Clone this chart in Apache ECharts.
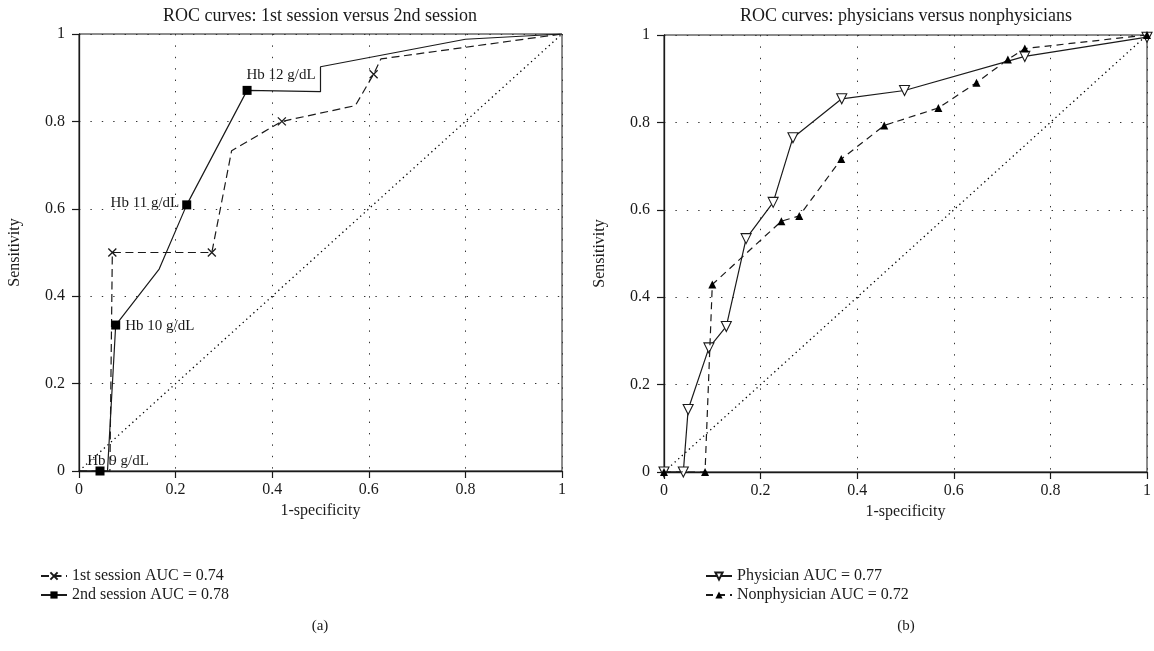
<!DOCTYPE html>
<html>
<head>
<meta charset="utf-8">
<script src="https://cdn.jsdelivr.net/npm/echarts@6/dist/echarts.min.js"></script>
<style>
  html, body { margin: 0; padding: 0; background: #fff; }
  #main { width: 1154px; height: 651px; }
</style>
</head>
<body>
<div id="main"></div>
<script>
// panel (a): 1st vs 2nd session
var session1X = [0, 0.064, 0.069, 0.275, 0.316, 0.42, 0.572, 0.61, 0.625, 1];
var session1Y = [0, 0, 0.5, 0.5, 0.733, 0.8, 0.836, 0.908, 0.943, 1];
var session1Marked = [false, false, true, true, false, true, false, true, false, false];

var session2X = [0, 0.0435, 0.059, 0.076, 0.166, 0.223, 0.348, 0.5, 0.5, 0.8, 1];
var session2Y = [0, 0, 0, 0.334, 0.462, 0.609, 0.871, 0.868, 0.925, 0.988, 1];
var session2Labels = ['', 'Hb 9 g/dL', '', 'Hb 10 g/dL', '', 'Hb 11 g/dL', 'Hb 12 g/dL', '', '', '', ''];

// panel (b): physicians vs nonphysicians
var physX = [0, 0.04, 0.05, 0.093, 0.129, 0.17, 0.226, 0.267, 0.368, 0.498, 0.747, 1];
var physY = [0, 0, 0.143, 0.284, 0.333, 0.534, 0.617, 0.765, 0.854, 0.873, 0.951, 0.995];

var nonX = [0, 0.085, 0.1, 0.243, 0.28, 0.367, 0.456, 0.568, 0.647, 0.712, 0.747, 1];
var nonY = [0, 0, 0.429, 0.574, 0.586, 0.716, 0.793, 0.833, 0.891, 0.944, 0.969, 1];

var legendA = ['1st session AUC = 0.74', '2nd session AUC = 0.78'];
var legendB = ['Physician AUC = 0.77', 'Nonphysician AUC = 0.72'];

var FONT = '"Liberation Serif", "DejaVu Serif", serif';
var INK = '#1a1a1a';

var crossPath = 'path://M0,0L10,10M10,0L0,10';

// label placement per annotated point
var labelPos = {
  'Hb 9 g/dL': { position: 'top', distance: 1, offset: [18, 3] },
  'Hb 10 g/dL': { position: 'right', distance: 5, offset: [0, 1] },
  'Hb 11 g/dL': { position: 'left', distance: 3, offset: [0, -2] },
  'Hb 12 g/dL': { position: 'top', distance: 3, offset: [34, 0] }
};

function pairs(xs, ys) {
  return xs.map(function (x, i) { return [x, ys[i]]; });
}

var s1Data = session1X.map(function (x, i) {
  var item = { value: [x, session1Y[i]] };
  if (!session1Marked[i]) item.symbol = 'none';
  return item;
});

var s2Data = session2X.map(function (x, i) {
  var item = { value: [x, session2Y[i]] };
  var lab = session2Labels[i];
  if (!lab) {
    item.symbol = 'none';
  } else {
    var p = labelPos[lab];
    item.label = {
      show: true, formatter: lab, position: p.position, distance: p.distance,
      offset: p.offset, color: INK, fontFamily: FONT, fontSize: 15
    };
  }
  return item;
});

function makeXAxis(idx) {
  return {
    gridIndex: idx, type: 'value', min: 0, max: 1, interval: 0.2,
    name: '1-specificity', nameLocation: 'middle', nameGap: 32,
    nameTextStyle: { color: INK, fontFamily: FONT, fontSize: 16 },
    axisLine: { lineStyle: { color: INK, width: 1.3 } },
    axisTick: { length: 7, lineStyle: { color: INK, width: 1.2 } },
    axisLabel: { color: INK, fontFamily: FONT, fontSize: 16, margin: 11 },
    splitLine: { show: true, lineStyle: { color: '#333', width: 1, type: [1.4, 10] } }
  };
}
function makeYAxis(idx) {
  return {
    gridIndex: idx, type: 'value', min: 0, max: 1, interval: 0.2,
    name: 'Sensitivity', nameLocation: 'middle', nameGap: 56,
    nameTextStyle: { color: INK, fontFamily: FONT, fontSize: 16 },
    axisLine: { lineStyle: { color: INK, width: 1.3 } },
    axisTick: { length: 7, lineStyle: { color: INK, width: 1.2 } },
    axisLabel: { color: INK, fontFamily: FONT, fontSize: 16, margin: 14 },
    splitLine: { show: true, lineStyle: { color: '#333', width: 1, type: [1.4, 10] } }
  };
}

function diagonal(idx) {
  return {
    type: 'line', xAxisIndex: idx, yAxisIndex: idx, silent: true,
    data: [[0, 0], [1, 1]], symbol: 'none',
    lineStyle: { color: '#000', width: 1.3, type: [1.3, 3.5] }, z: 1
  };
}

function legendAt(names, left) {
  return {
    data: names, orient: 'vertical', left: left, top: 563, itemGap: 3,
    itemWidth: 26, itemHeight: 9,
    textStyle: { color: INK, fontFamily: FONT, fontSize: 16 }
  };
}

function textAt(str, x, y, size) {
  return {
    type: 'text', x: x, y: y,
    style: { text: str, fill: INK, font: size + 'px ' + FONT, textAlign: 'center', textVerticalAlign: 'middle' }
  };
}

var chart = echarts.init(document.getElementById('main'), null, { renderer: 'canvas' });

var option = {
  animation: false,
  backgroundColor: '#fff',
  textStyle: { fontFamily: FONT },
  grid: [
    { left: 79, top: 34, width: 483, height: 437, show: true, borderColor: INK, borderWidth: 1, backgroundColor: 'transparent' },
    { left: 664, top: 35, width: 485, height: 437, show: true, borderColor: INK, borderWidth: 1, backgroundColor: 'transparent' }
  ],
  xAxis: [makeXAxis(0), makeXAxis(1)],
  yAxis: [makeYAxis(0), makeYAxis(1)],
  legend: [legendAt(legendA, 35), legendAt(legendB, 700)],
  graphic: [
    textAt('ROC curves: 1st session versus 2nd session', 320, 16, 18),
    textAt('ROC curves: physicians versus nonphysicians', 906, 16, 18),
    textAt('(a)', 320, 626, 15),
    textAt('(b)', 906, 626, 15)
  ],
  series: [
    diagonal(0),
    {
      name: legendA[0], type: 'line', xAxisIndex: 0, yAxisIndex: 0,
      data: s1Data, symbol: crossPath, symbolSize: 8,
      itemStyle: { color: 'transparent', borderColor: INK, borderWidth: 1.3 },
      lineStyle: { color: INK, width: 1.2, type: [8, 4.5] }, z: 3
    },
    {
      name: legendA[1], type: 'line', xAxisIndex: 0, yAxisIndex: 0,
      data: s2Data, symbol: 'rect', symbolSize: 9,
      itemStyle: { color: '#000' },
      lineStyle: { color: INK, width: 1.2 }, z: 4
    },
    diagonal(1),
    {
      name: legendB[0], type: 'line', xAxisIndex: 1, yAxisIndex: 1,
      data: pairs(physX, physY), symbol: 'triangle', symbolRotate: 180, symbolSize: 10,
      itemStyle: { color: '#fff', borderColor: INK, borderWidth: 1.1 },
      lineStyle: { color: INK, width: 1.2 }, z: 3
    },
    {
      name: legendB[1], type: 'line', xAxisIndex: 1, yAxisIndex: 1,
      data: pairs(nonX, nonY), symbol: 'triangle', symbolSize: 8,
      itemStyle: { color: '#000' },
      lineStyle: { color: INK, width: 1.2, type: [7, 5] }, z: 4
    }
  ]
};

chart.setOption(option);
</script>
</body>
</html>
